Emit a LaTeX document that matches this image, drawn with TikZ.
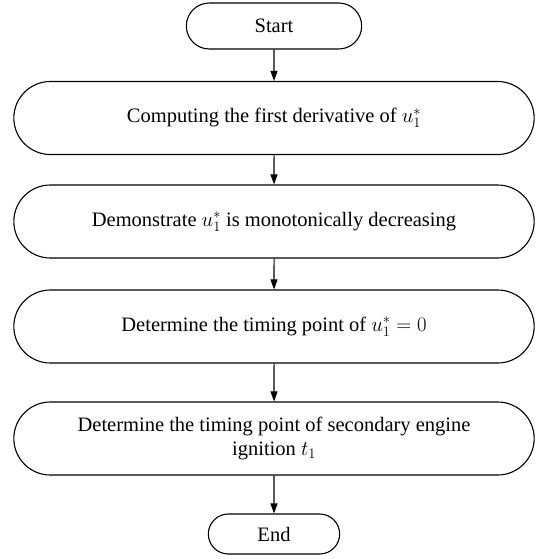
\documentclass[tikz,border=0pt]{standalone}
\usepackage{amsmath}
\usepackage{fontspec}
\setmainfont{Liberation Serif}
\usetikzlibrary{shapes.misc,arrows.meta}

\begin{document}
\begin{tikzpicture}[x=1pt, y=1pt,
  stepbox/.style={draw, line width=1.1pt, rounded rectangle, minimum width=527pt, minimum height=73pt, align=center, font=\fontsize{20.5}{24}\selectfont},
  termbox/.style={draw, line width=1.1pt, rounded rectangle, minimum height=46pt, font=\fontsize{20.5}{24}\selectfont},
  flow/.style={-{Triangle[length=10pt, width=7pt]}, line width=1.1pt}]
\useasboundingbox (0,0) rectangle (538,-559);

% Terminals
\node[termbox, minimum width=182pt] (start) at (274,-26) {Start};
\node[termbox, minimum width=138pt, minimum height=40pt] (stop) at (274,-534) {End};

% Steps
\node[stepbox] (deriv) at (274,-118) {Computing the first derivative of $u_1^{*}$};
\node[stepbox] (mono) at (274,-221.5) {Demonstrate $u_1^{*}$ is monotonically decreasing};
\node[stepbox] (zero) at (274,-326.5) {Determine the timing point of $u_1^{*}=0$};
\node[stepbox] (ignit) at (274,-438.5) {Determine the timing point of secondary engine\\ ignition $t_1$};

% Arrows
\draw[flow] (start) -- (deriv);
\draw[flow] (deriv) -- (mono);
\draw[flow] (mono) -- (zero);
\draw[flow] (zero) -- (ignit);
\draw[flow] (ignit) -- (stop);
\end{tikzpicture}
\end{document}
